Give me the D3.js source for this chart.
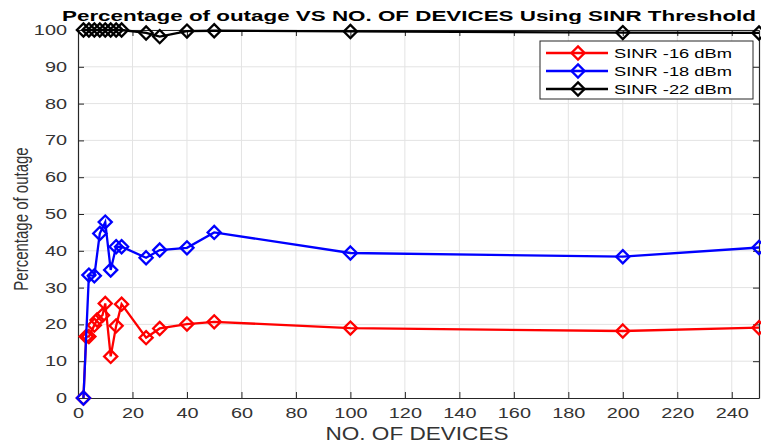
<!DOCTYPE html>
<html>
<head>
<meta charset="utf-8">
<script src="https://cdn.jsdelivr.net/npm/d3@7"></script>
<style>
  body { margin: 0; background: #fff; }
  text { font-family: Arial, "Liberation Sans", sans-serif; }
</style>
</head>
<body>
<div id="chart"></div>
<script>
// data
let xRed = [2, 3, 4, 6, 7, 9, 10, 12, 14, 16, 25, 30, 40, 50, 100, 200, 250]
let yRed = [0, 16.7, 16.7, 19.8, 21.2, 22.5, 25.7, 11.3, 19.6, 25.5, 16.4, 18.9, 20.1, 20.7, 19.0, 18.2, 19.1]

let xBlue = [2, 4, 6, 8, 10, 12, 14, 16, 25, 30, 40, 50, 100, 200, 250]
let yBlue = [0, 33.4, 33.2, 44.7, 47.8, 34.8, 41.1, 41.1, 38.1, 40.2, 40.8, 45.0, 39.4, 38.4, 40.9]

let xBlack = [2, 4, 6, 8, 10, 12, 14, 16, 25, 30, 40, 50, 100, 200, 250]
let yBlack = [100, 100, 100, 100, 100, 100, 100, 100, 99.2, 98.2, 99.7, 99.8, 99.6, 99.3, 99.2]

let seriesNames = ['SINR -16 dBm', 'SINR -18 dBm', 'SINR -22 dBm']
let seriesColors = ['#ff0000', '#0000ff', '#000000']

let xTicks = [0, 20, 40, 60, 80, 100, 120, 140, 160, 180, 200, 220, 240]
let yTicks = [0, 10, 20, 30, 40, 50, 60, 70, 80, 90, 100]

let width = 761, height = 444
let margin = {top: 30, right: 2, bottom: 46, left: 78}
let w = width - margin.left - margin.right
let h = height - margin.top - margin.bottom

// the picture is stretched sideways, so text gets widened
let stretch = 1.42
function widen(sel) {
    sel.each(function () {
        let len = this.getComputedTextLength()
        d3.select(this).attr('textLength', len * stretch).attr('lengthAdjust', 'spacingAndGlyphs')
    })
}

let svg = d3.select('#chart').append('svg')
    .attr('width', width)
    .attr('height', height)

let g = svg.append('g')
    .attr('transform', `translate(${margin.left},${margin.top})`)

let x = d3.scaleLinear().domain([0, 250]).range([0, w])
let y = d3.scaleLinear().domain([0, 100]).range([h, 0])

// grid
g.append('g').selectAll('line').data(xTicks.slice(1)).enter().append('line')
    .attr('x1', d => x(d)).attr('x2', d => x(d))
    .attr('y1', 0).attr('y2', h)
    .attr('stroke', '#e3e3e3').attr('stroke-width', 1)
g.append('g').selectAll('line').data(yTicks.slice(1)).enter().append('line')
    .attr('x1', 0).attr('x2', w)
    .attr('y1', d => y(d)).attr('y2', d => y(d))
    .attr('stroke', '#e3e3e3').attr('stroke-width', 1)

// axes (matlab style: ticks inside, box on)
let axisColor = '#262626'
let xAxis = g.append('g')
    .attr('transform', `translate(0,${h})`)
    .call(d3.axisBottom(x).tickValues(xTicks).tickSizeInner(-6).tickSizeOuter(0).tickPadding(10.5))
let yAxis = g.append('g')
    .call(d3.axisLeft(y).tickValues(yTicks).tickSizeInner(-6).tickSizeOuter(0).tickPadding(11))
let xAxisTop = g.append('g')
    .call(d3.axisTop(x).tickValues(xTicks).tickSizeInner(-6).tickSizeOuter(0).tickFormat(''))
let yAxisRight = g.append('g')
    .attr('transform', `translate(${w},0)`)
    .call(d3.axisRight(y).tickValues(yTicks).tickSizeInner(-6).tickSizeOuter(0).tickFormat(''))

;[xAxis, yAxis, xAxisTop, yAxisRight].forEach(a => {
    a.selectAll('path').attr('stroke', axisColor).attr('stroke-width', 1.2)
    a.selectAll('line').attr('stroke', axisColor)
    a.selectAll('text').attr('fill', '#333').style('font-size', '14px').call(widen)
})

// lines + diamond markers
let seriesData = [
    xRed.map((d, i) => ({x: d, y: yRed[i]})),
    xBlue.map((d, i) => ({x: d, y: yBlue[i]})),
    xBlack.map((d, i) => ({x: d, y: yBlack[i]}))
]

let line = d3.line().x(d => x(d.x)).y(d => y(d.y))
let diamond = d3.symbol().type(d3.symbolDiamond2).size(110)

let plot = g.append('g')
seriesData.forEach((data, si) => {
    plot.append('path')
        .datum(data)
        .attr('d', line)
        .attr('fill', 'none')
        .attr('stroke', seriesColors[si])
        .attr('stroke-width', 2.3)
    plot.append('g').selectAll('path').data(data).enter().append('path')
        .attr('d', diamond)
        .attr('transform', d => `translate(${x(d.x)},${y(d.y)})`)
        .attr('fill', 'none')
        .attr('stroke', seriesColors[si])
        .attr('stroke-width', 2.3)
})

// title
svg.append('text')
    .attr('x', 409).attr('y', 21)
    .attr('text-anchor', 'middle')
    .attr('font-weight', 'bold')
    .attr('textLength', 694)
    .attr('lengthAdjust', 'spacingAndGlyphs')
    .style('font-size', '15px')
    .text('Percentage of outage VS NO. OF DEVICES Using SINR Threshold')

// axis labels
svg.append('text')
    .attr('x', 417).attr('y', 440)
    .attr('text-anchor', 'middle')
    .attr('fill', '#333')
    .attr('textLength', 183)
    .attr('lengthAdjust', 'spacingAndGlyphs')
    .style('font-size', '18px')
    .text('NO. OF DEVICES')

svg.append('text')
    .attr('transform', 'translate(28,219) scale(1.4,1) rotate(-90)')
    .attr('text-anchor', 'middle')
    .attr('fill', '#333')
    .style('font-size', '15px')
    .text('Percentage of outage')

// legend
let legend = svg.append('g').attr('transform', 'translate(540,41)')
legend.append('rect')
    .attr('width', 213).attr('height', 58)
    .attr('fill', '#fff')
    .attr('stroke', '#262626').attr('stroke-width', 1)
seriesNames.forEach((name, i) => {
    let row = legend.append('g').attr('transform', `translate(0,${12 + i * 18})`)
    row.append('line')
        .attr('x1', 6).attr('x2', 68)
        .attr('stroke', seriesColors[i]).attr('stroke-width', 2.3)
    row.append('path')
        .attr('d', diamond)
        .attr('transform', 'translate(38,0)')
        .attr('fill', 'none')
        .attr('stroke', seriesColors[i]).attr('stroke-width', 2.3)
    row.append('text')
        .attr('x', 74).attr('y', 5)
        .attr('fill', '#000')
        .attr('textLength', 118)
        .attr('lengthAdjust', 'spacingAndGlyphs')
        .style('font-size', '13px')
        .text(name)
})
</script>
</body>
</html>
